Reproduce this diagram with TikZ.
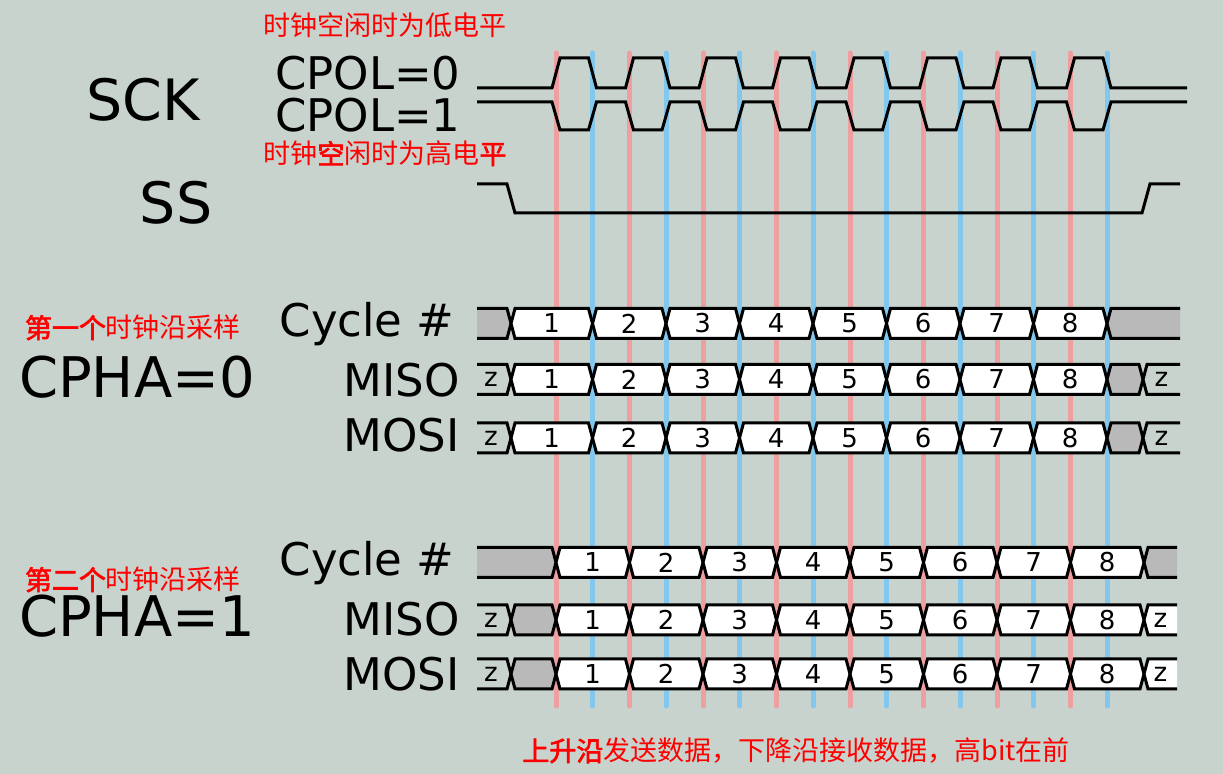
\documentclass[tikz,border=0pt]{standalone}
\usepackage{xcolor}
\usepackage{fontspec}
\setmainfont{DejaVu Sans}
\newfontfamily\cjk{Noto Sans CJK SC}
\newfontfamily\cjkbf[FakeBold=2.5]{Noto Sans CJK SC}
\usepackage{tikz}
\usetikzlibrary{calc}

\definecolor{bgcol}{RGB}{200,211,205}
\definecolor{edgered}{RGB}{238,160,160}
\definecolor{edgeblue}{RGB}{130,200,238}
\definecolor{busgray}{RGB}{185,185,185}

\tikzset{
  wire/.style={line width=1.5pt, line join=miter},
  sampleline/.style={line width=2.5pt, line cap=round},
  celltext/.style={inner sep=0pt, font=\fontsize{13}{15}\selectfont},
  signame/.style={inner sep=0pt, font=\fontsize{22.5}{27}\selectfont},
  bigsig/.style={inner sep=0pt, font=\fontsize{28.5}{34}\selectfont},
  phase/.style={inner sep=0pt, font=\fontsize{28}{34}\selectfont},
  note/.style={inner sep=0pt, text=red, font=\cjk\fontsize{13.5}{16}\selectfont}
}

% cell pointed at both ends: x1, x2, y, fill, text, name
\newcommand{\buscell}[6]{%
  \filldraw[wire, fill=#4] (#1,#3) -- (#1+4,#3-15) -- (#2-4,#3-15) -- (#2,#3)
    -- (#2-4,#3+15) -- (#1+4,#3+15) -- cycle;
  \node[celltext] (#6) at ({(#1+#2)/2},#3) {#5};}
% cell open on the left
\newcommand{\busopenl}[6]{%
  \fill[#4] (#1,#3-15) -- (#2-4,#3-15) -- (#2,#3) -- (#2-4,#3+15) -- (#1,#3+15) -- cycle;
  \draw[wire] (#1,#3-15) -- (#2-4,#3-15) -- (#2,#3) -- (#2-4,#3+15) -- (#1,#3+15);
  \node[celltext] (#6) at ({(#1+#2)/2-3},#3) {#5};}
% cell open on the right
\newcommand{\busopenr}[6]{%
  \fill[#4] (#2,#3-15) -- (#1+4,#3-15) -- (#1,#3) -- (#1+4,#3+15) -- (#2,#3+15) -- cycle;
  \draw[wire] (#2,#3-15) -- (#1+4,#3-15) -- (#1,#3) -- (#1+4,#3+15) -- (#2,#3+15);
  \node[celltext] (#6) at ({(#1+#2)/2},#3) {#5};}

\begin{document}
\begin{tikzpicture}[x=0.5pt, y=-0.5pt]
  \fill[bgcol] (0,0) rectangle (1223,774);
  \useasboundingbox (0,0) rectangle (1223,774);

  % sampling edges: red = leading, blue = trailing
  \foreach \k in {0,...,7} {
    \draw[sampleline, edgered] (556+73.5*\k,53) -- (556+73.5*\k,706);
    \draw[sampleline, edgeblue] (592.5+73.5*\k,53) -- (592.5+73.5*\k,706);
  }

  % SCK
  \node[bigsig, anchor=base] (sck) at (143,121) {SCK};
  \node[note, anchor=base] (idlelow) at (385,36) {时钟空闲时为低电平};
  \node[signame, anchor=base east] (cpol0) at (461,90) {CPOL=0};
  \node[signame, anchor=base east] (cpol1) at (461,132) {CPOL=1};
  \node[note, anchor=base] (idlehigh) at (385,164) {时钟{\cjkbf 空}闲时为高电{\cjkbf 平}};
  \draw[wire] (477,88) \foreach \k in {0,...,7} {
      -- (552+73.5*\k,88) -- (560+73.5*\k,58) -- (588.5+73.5*\k,58) -- (596.5+73.5*\k,88)
    } -- (1187,88);
  \draw[wire] (477,102) \foreach \k in {0,...,7} {
      -- (552+73.5*\k,102) -- (560+73.5*\k,130) -- (588.5+73.5*\k,130) -- (596.5+73.5*\k,102)
    } -- (1187,102);

  % SS
  \node[bigsig, anchor=base] (ss) at (176,224) {SS};
  \draw[wire] (477,184) -- (507,184) -- (515,213) -- (1142,213) -- (1150,184) -- (1180,184);

  % CPHA=0
  \node[note, anchor=base] (edgeone) at (133,338) {{\cjkbf 第一个}时钟沿采样};
  \node[phase, anchor=base] (cpha0) at (137,398) {CPHA=0};
  \node[signame, anchor=base east] (cyc0) at (455,337) {Cycle \#};
  \node[signame, anchor=base east] (miso0) at (460,397) {MISO};
  \node[signame, anchor=base east] (mosi0) at (460,452) {MOSI};

  \busopenl{477}{511}{323.5}{busgray}{}{ac0}
  \busopenl{477}{511}{379.5}{bgcol}{z}{am0}
  \busopenl{477}{511}{438}{bgcol}{z}{ao0}
  \foreach \y/\r in {323.5/ac, 379.5/am, 438/ao} {
    \buscell{511}{592.5}{\y}{white}{1}{\r1}
    \foreach \k [evaluate=\k as \xa using 592.5+73.5*(\k-2),
                 evaluate=\k as \xb using 592.5+73.5*(\k-1)] in {2,...,8} {
      \buscell{\xa}{\xb}{\y}{white}{\k}{\r\k}
    }
  }
  \busopenr{1107}{1180}{323.5}{busgray}{}{ac9}
  \buscell{1107}{1143}{379.5}{busgray}{}{am9}
  \busopenr{1143}{1180}{379.5}{bgcol}{z}{amz}
  \buscell{1107}{1143}{438}{busgray}{}{ao9}
  \busopenr{1143}{1180}{438}{bgcol}{z}{aoz}

  % CPHA=1
  \node[note, anchor=base] (edgetwo) at (133,590) {{\cjkbf 第二个}时钟沿采样};
  \node[phase, anchor=base] (cpha1) at (137,637) {CPHA=1};
  \node[signame, anchor=base east] (cyc1) at (455,576) {Cycle \#};
  \node[signame, anchor=base east] (miso1) at (460,636) {MISO};
  \node[signame, anchor=base east] (mosi1) at (460,691) {MOSI};

  \busopenl{477}{556}{562.5}{busgray}{}{bc0}
  \busopenl{477}{511}{620}{bgcol}{z}{bmz}
  \buscell{511}{556}{620}{busgray}{}{bm0}
  \busopenl{477}{511}{674}{bgcol}{z}{boz}
  \buscell{511}{556}{674}{busgray}{}{bo0}
  \foreach \y/\r in {562.5/bc, 620/bm, 674/bo} {
    \foreach \k [evaluate=\k as \xa using 556+73.5*(\k-1),
                 evaluate=\k as \xb using 556+73.5*\k] in {1,...,8} {
      \buscell{\xa}{\xb}{\y}{white}{\k}{\r\k}
    }
  }
  \busopenr{1144}{1177}{562.5}{busgray}{}{bc9}
  \busopenr{1144}{1177}{620}{white}{z}{bm9}
  \busopenr{1144}{1177}{674}{white}{z}{bo9}

  \node[note, anchor=base] (rule) at (796,761) {{\cjkbf 上升沿}发送数据，下降沿接收数据，高bit在前};
\end{tikzpicture}
\end{document}
